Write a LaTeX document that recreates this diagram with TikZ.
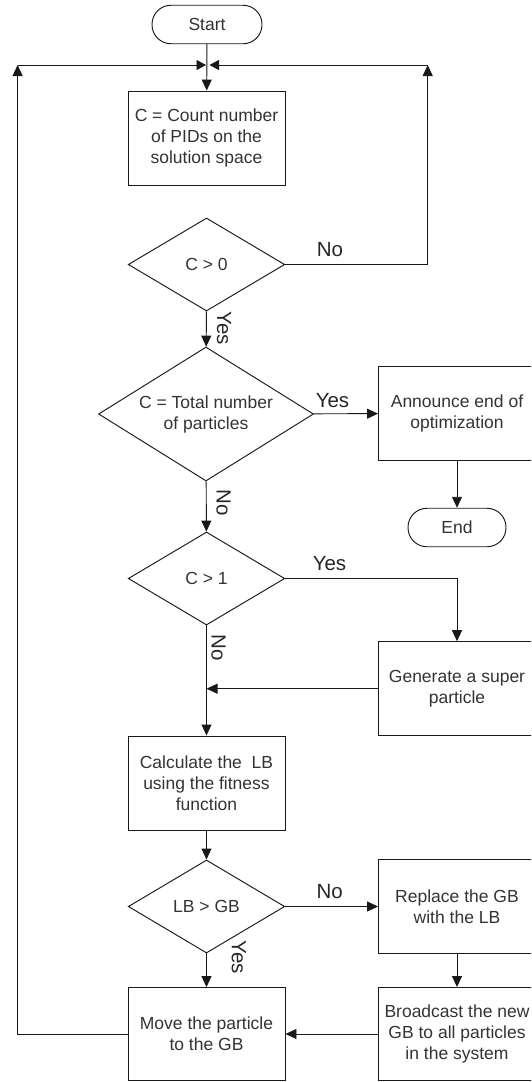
\documentclass[tikz,border=0pt]{standalone}
\usepackage{fontspec}
\setmainfont{Liberation Sans}
\usetikzlibrary{shapes.geometric,arrows.meta}
\begin{document}
\begin{tikzpicture}[x=1pt,y=-1pt,
  line width=0.95pt,
  draw=black!90,
  txt/.style={text=black!80,font=\fontsize{17.5}{21}\selectfont},
  proc/.style={draw,rectangle,minimum width=157pt,minimum height=94pt,align=center,inner sep=0pt,txt},
  term/.style={draw,rounded corners=19pt,minimum width=110pt,minimum height=38.5pt,inner sep=0pt,txt},
  dec/.style={draw,diamond,inner sep=0pt,align=center,txt},
  lbl/.style={text=black!85,font=\fontsize{20.5}{24}\selectfont,inner sep=0pt},
  arr/.style={-{Triangle[length=11pt,width=10pt]}},
  arrs/.style={-{Triangle[length=9.5pt,width=10pt]}}
]
\useasboundingbox (0,0) rectangle (531,1082);
\clip (0,0) rectangle (531,1082);

% nodes
\node[term] (start) at (207,24.5) {Start};
\node[proc] (count) at (206.5,138) {C = Count number\\of PIDs on the\\solution space};
\node[dec,minimum width=156.5pt,minimum height=93pt] (d1) at (206.5,264.5) {C > 0};
\node[dec,minimum width=215pt,minimum height=134pt,aspect=1.6] (d2) at (206,414) {C = Total number\\of particles};
\node[proc] (announce) at (457,413.5) {Announce end of\\optimization};
\node[term,minimum width=98pt] (end) at (457,527.5) {End};
\node[dec,minimum width=156.5pt,minimum height=93pt] (d3) at (206.5,578.5) {C > 1};
\node[proc] (generate) at (457,688.7) {Generate a super\\particle};
\node[proc] (calc) at (206.5,783) {Calculate the\ \ LB\\using the fitness\\function};
\node[dec,minimum width=156.5pt,minimum height=93pt] (d4) at (206.5,906.5) {LB > GB};
\node[proc] (replace) at (457,906.5) {Replace the GB\\with the LB};
\node[proc,minimum height=93pt] (move) at (206.5,1034) {Move the particle\\to the GB};
\node[proc,minimum height=93pt] (broadcast) at (457,1034) {Broadcast the new\\GB to all particles\\in the system};

% helper coordinates
\coordinate (LT) at (17.6,65);
\coordinate (RT) at (427.7,65);
\coordinate (JL) at (206,65);
\coordinate (JR) at (209.5,65);
\coordinate (GJ) at (206.5,688.7);

% connectors
\draw[arr] (start) -- (count);
\draw[arr] (move.west) -| (LT);
\draw[arrs] (LT) -- (JL);
\draw[arr] (d1.east) -| (RT);
\draw[arrs] (RT) -- (JR);
\draw[arr] (d1) -- (d2);
\draw[arr] (d2) -- (announce);
\draw[arr] (announce) -- (end);
\draw[arr] (d2) -- (d3);
\draw[arr] (d3.east) -| (generate.north);
\draw[arr] (d3) -- (calc);
\draw[arr] (generate.west) -- (GJ);
\draw[arr] (calc) -- (d4);
\draw[arr] (d4) -- (replace);
\draw[arr] (replace) -- (broadcast);
\draw[arr] (d4) -- (move);
\draw[arr] (broadcast) -- (move);

% labels
\node[lbl] (l1) at (330,250) {No};
\node[lbl,rotate=-90] (l2) at (224,328) {Yes};
\node[lbl] (l3) at (332.5,401) {Yes};
\node[lbl,rotate=-90] (l4) at (223.5,503) {No};
\node[lbl] (l5) at (329.5,564) {Yes};
\node[lbl,rotate=-90] (l6) at (218.5,648) {No};
\node[lbl] (l7) at (329.7,892) {No};
\node[lbl,rotate=-90] (l8) at (238.7,957) {Yes};
\end{tikzpicture}
\end{document}
